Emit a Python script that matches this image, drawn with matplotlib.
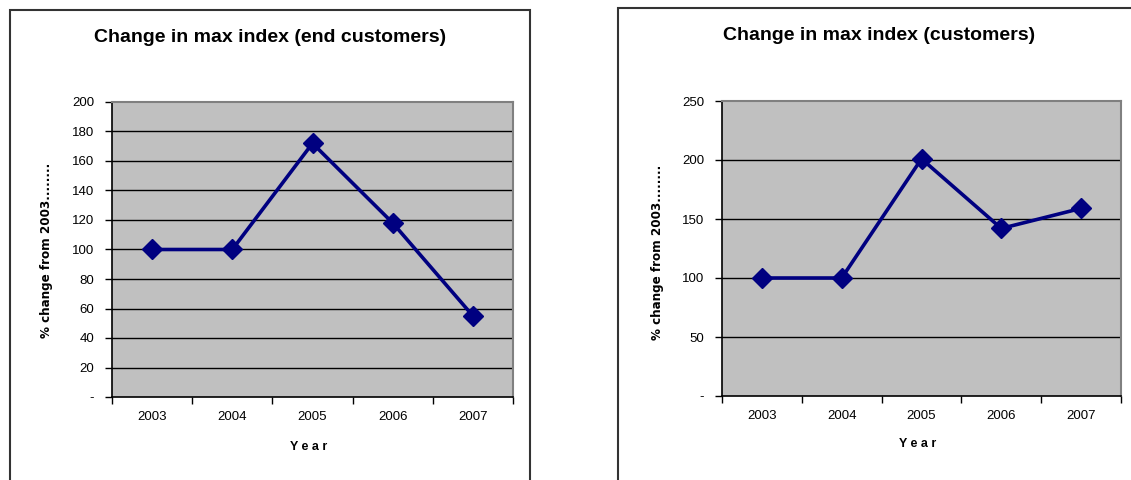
import numpy as np
import matplotlib
matplotlib.use('Agg')
import matplotlib.pyplot as plt
from matplotlib.patches import Rectangle
from matplotlib.ticker import FuncFormatter

plt.rcParams['font.family'] = ['Liberation Sans', 'DejaVu Sans']

years = ['2003', '2004', '2005', '2006', '2007']
end_customers = [100, 100, 172, 118, 55]
customers = [100, 100, 201, 142, 159]

W, H = 1131, 480
navy = '#000080'
grey = '#C0C0C0'


def px_box(x0, x1, ytop, ybot):
    return [x0 / W, (H - ybot) / H, (x1 - x0) / W, (ybot - ytop) / H]


def dash_zero(v, pos):
    return '-' if abs(v) < 1e-9 else '%d' % v


def draw_panel(fig, box, values, ymax, ystep, title, title_xy, year_xy, ylab_xy):
    ax = fig.add_axes(box)
    x = np.arange(len(values))
    ax.set_facecolor(grey)
    ax.set_xlim(-0.5, len(values) - 0.5)
    ax.set_ylim(0, ymax)
    ax.set_yticks(np.arange(0, ymax + 1, ystep))
    ax.yaxis.set_major_formatter(FuncFormatter(dash_zero))
    for yv in np.arange(ystep, ymax, ystep):
        ax.axhline(yv, color='black', lw=1.0, zorder=1)
    ax.plot(x, values, color=navy, lw=2.6, marker='D', ms=10, zorder=3)

    ax.set_xticks(np.arange(-0.5, len(values), 1.0))
    ax.set_xticklabels([])
    ax.set_xticks(x, minor=True)
    ax.set_xticklabels(years, minor=True, fontsize=9.5)
    ax.tick_params(axis='x', which='major', direction='out', length=5, width=1)
    ax.tick_params(axis='x', which='minor', length=0, pad=10)
    ax.tick_params(axis='y', direction='out', length=5, width=1, labelsize=9.5, pad=8)

    for s in ['left', 'bottom']:
        ax.spines[s].set_color('black')
        ax.spines[s].set_linewidth(1.2)
    for s in ['top', 'right']:
        ax.spines[s].set_color('#808080')
        ax.spines[s].set_linewidth(1.5)

    fig.text(title_xy[0] / W, 1 - title_xy[1] / H, title, ha='center', va='center',
             fontsize=14, fontweight='bold')
    fig.text(year_xy[0] / W, 1 - year_xy[1] / H, 'Y e a r', ha='center', va='center',
             fontsize=9, fontweight='bold')
    fig.text(ylab_xy[0] / W, 1 - ylab_xy[1] / H, '% change from 2003........', ha='center',
             va='center', rotation=90, fontsize=9.5, fontweight='bold',
             family='DejaVu Sans', fontstretch='condensed')
    return ax


def main():
    fig = plt.figure(figsize=(W / 100, H / 100), dpi=100)
    fig.patches.append(Rectangle((10 / W, -0.05), 520 / W, 1.05 - 10 / H, transform=fig.transFigure,
                                 fill=False, ec='#333333', lw=1.5))
    fig.patches.append(Rectangle((618 / W, -0.05), 600 / W, 1.05 - 8 / H, transform=fig.transFigure,
                                 fill=False, ec='#333333', lw=1.5))

    draw_panel(fig, px_box(112, 513, 102, 397), end_customers, 200, 20,
               'Change in max index (end customers)', (270, 38), (309, 447), (47, 250))
    draw_panel(fig, px_box(722, 1121, 101, 396), customers, 250, 50,
               'Change in max index (customers)', (879, 36), (918, 444), (658, 252))

    fig.savefig('out.png', dpi=100)


if __name__ == '__main__':
    main()
